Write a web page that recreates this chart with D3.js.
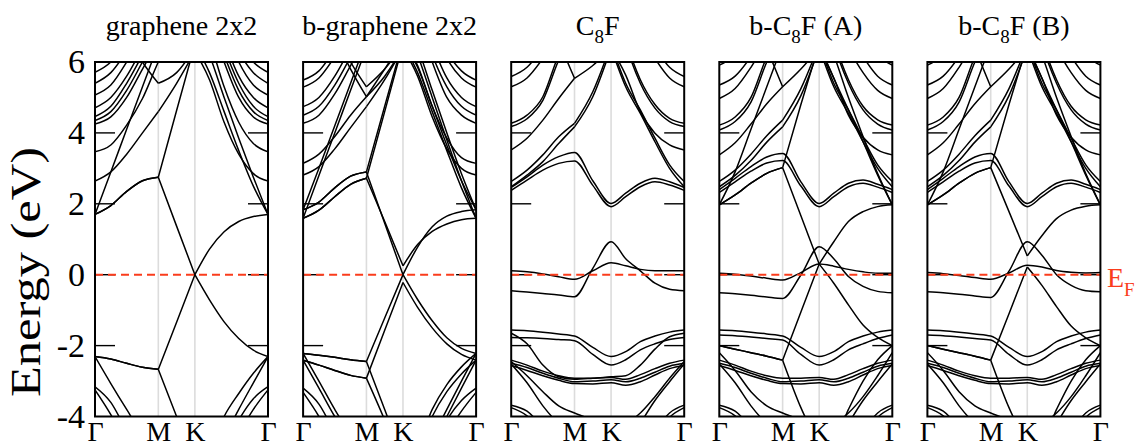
<!DOCTYPE html>
<html><head><meta charset="utf-8">
<script src="https://cdn.jsdelivr.net/npm/d3@7"></script>
<style>html,body{margin:0;padding:0;background:#fff;} svg{display:block;}</style>
</head><body>
<svg id="chart" width="1138" height="446"></svg>
<script>
// ---------- data ----------
const kLabels = ["Γ", "M", "K", "Γ"];
const kNodes = [0, 0.5774, 0.9107, 1.5774];
const kGrid = [0, 0.1443, 0.2887, 0.4330, 0.5774, 0.7440, 0.9107, 1.0440, 1.1774, 1.3107, 1.4440, 1.5774];
const energyTicks = [-4, -2, 0, 2, 4, 6];
const innerTicks = [-2, 0, 2, 4];
const panelTitleParts = [
  [["graphene 2x2", false]],
  [["b-graphene 2x2", false]],
  [["C", false], ["8", true], ["F", false]],
  [["b-C", false], ["8", true], ["F (A)", false]],
  [["b-C", false], ["8", true], ["F (B)", false]]
];

// graphene 2x2
const grapheneKinked = [
  [1.70, 1.95, 2.35, 2.65, 2.75, 1.37, 0.00, 0.72, 1.21, 1.50, 1.64, 1.70],
  [1.70, 1.95, 2.35, 2.65, 2.75, 4.63, 6.50, 5.70, 4.60, 3.50, 2.50, 1.70],
  [1.70, 2.90, 4.10, 5.30, 6.50, 7.00, 7.20, 6.20, 5.00, 3.85, 2.75, 1.70],
  [-2.31, -2.38, -2.50, -2.61, -2.67, -1.34, 0.00, -0.71, -1.33, -1.80, -2.13, -2.31],
  [-2.31, -2.38, -2.50, -2.61, -2.67, -4.00, -5.30, -5.00, -4.00, -3.35, -2.78, -2.31],
  [-2.31, -3.07, -3.80, -4.50, -5.00, -5.50, -5.80, -5.40, -4.60, -3.80, -3.05, -2.31],
  [2.64, 2.90, 3.40, 4.00, 4.60, 5.40, 6.30, 5.50, 4.30, 3.40, 2.85, 2.64],
  [null, 7.50, 6.80, 6.00, 5.40, 5.70, 6.40, null, null, null, null, null]
];
const grapheneSmooth = [
  [3.47, 3.66, 4.22, 4.97, 6.00, 7.00, 7.50, 6.60, 5.30, 4.30, 3.70, 3.47],
  [4.25, 4.45, 5.00, 5.80, 6.60, 7.50, 8.00, 7.20, 6.00, 5.00, 4.45, 4.25],
  [4.35, 4.60, 5.20, 6.00, 6.80, 7.50, 8.00, 7.40, 6.20, 5.20, 4.60, 4.35],
  [4.46, 4.75, 5.40, 6.20, 7.00, 7.50, 8.00, 7.60, 6.40, 5.40, 4.75, 4.46],
  [4.71, 5.00, 5.60, 6.40, 7.20, 7.50, 8.00, 7.80, 6.60, 5.60, 5.00, 4.71],
  [5.07, 5.35, 6.00, 6.80, 7.50, 8.00, 8.00, 8.00, 7.00, 6.00, 5.35, 5.07],
  [5.40, 5.70, 6.30, 7.00, 7.50, 8.00, 8.00, 8.00, 7.30, 6.30, 5.70, 5.40],
  [5.71, 6.00, 6.60, 7.20, 7.50, 8.00, 8.00, 8.00, 7.60, 6.60, 6.00, 5.71],
  [-3.16, -3.60, -4.40, -5.10, -5.60, -6.00, -6.00, -5.60, -4.90, -4.10, -3.50, -3.16],
  [-3.25, -3.95, -4.80, -5.50, -5.90, -6.00, -6.00, -5.90, -5.30, -4.50, -3.80, -3.25]
];

// b-graphene 2x2
const bgrapheneKinked = [
  [1.59, 1.82, 2.20, 2.55, 2.72, 1.50, 0.25, 0.85, 1.22, 1.43, 1.55, 1.59],
  [1.83, 2.05, 2.45, 2.78, 2.90, 1.45, 0.00, 0.78, 1.35, 1.65, 1.78, 1.83],
  [1.59, 1.82, 2.20, 2.55, 2.72, 4.60, 6.50, 5.70, 4.60, 3.50, 2.45, 1.59],
  [1.83, 2.05, 2.45, 2.78, 2.90, 4.75, 6.60, 5.85, 4.75, 3.65, 2.65, 1.83],
  [1.59, 2.80, 4.00, 5.20, 6.40, 7.00, 7.20, 6.20, 5.00, 3.80, 2.65, 1.59],
  [1.83, 3.00, 4.20, 5.40, 6.60, 7.00, 7.20, 6.40, 5.20, 4.00, 2.85, 1.83],
  [-2.22, -2.27, -2.33, -2.40, -2.45, -1.22, 0.00, -0.70, -1.30, -1.78, -2.08, -2.22],
  [-2.41, -2.55, -2.70, -2.84, -2.92, -1.57, -0.22, -0.92, -1.50, -1.95, -2.25, -2.41],
  [-2.22, -2.27, -2.33, -2.40, -2.45, -3.80, -5.20, -4.80, -3.80, -3.10, -2.60, -2.22],
  [-2.41, -2.55, -2.70, -2.84, -2.92, -4.10, -5.40, -5.00, -4.00, -3.30, -2.80, -2.41],
  [-2.22, -3.00, -3.80, -4.50, -5.00, -5.50, -5.80, -5.40, -4.60, -3.80, -3.00, -2.22],
  [-2.41, -3.20, -4.00, -4.70, -5.20, -5.60, -5.90, -5.60, -4.80, -4.00, -3.20, -2.41],
  [2.81, 3.05, 3.55, 4.15, 4.74, 5.50, 6.40, 5.60, 4.45, 3.55, 3.00, 2.81],
  [3.14, 3.40, 3.90, 4.50, 5.02, 5.80, 6.60, 5.90, 4.75, 3.85, 3.30, 3.14],
  [null, 7.50, 6.70, 5.80, 5.02, 5.60, 6.40, null, null, null, null, null],
  [null, 7.60, 6.90, 6.00, 5.30, 5.80, 6.50, null, null, null, null, null]
];
const bgrapheneSmooth = [
  [4.27, 4.50, 5.10, 5.90, 6.70, 7.50, 8.00, 7.20, 6.00, 5.00, 4.50, 4.27],
  [4.50, 4.75, 5.35, 6.15, 7.00, 7.50, 8.00, 7.40, 6.20, 5.30, 4.75, 4.50],
  [4.74, 5.00, 5.60, 6.40, 7.20, 7.50, 8.00, 7.70, 6.50, 5.55, 5.00, 4.74],
  [5.29, 5.55, 6.15, 6.90, 7.50, 8.00, 8.00, 8.00, 7.00, 6.10, 5.55, 5.29],
  [5.49, 5.75, 6.35, 7.00, 7.50, 8.00, 8.00, 8.00, 7.30, 6.30, 5.75, 5.49],
  [-3.20, -3.65, -4.45, -5.15, -5.60, -6.00, -6.00, -5.60, -4.90, -4.10, -3.55, -3.20],
  [-3.32, -4.00, -4.85, -5.55, -5.90, -6.00, -6.00, -5.90, -5.30, -4.50, -3.85, -3.32]
];

// C8F
const c8fKinked = [
  [3.52, 3.85, 4.36, 4.97, 5.54, 5.90, 6.40, 5.63, 4.60, 3.99, 3.66, 3.52],
  [null, 8.00, 7.80, 6.60, 5.54, null, null, null, null, null, null, null],
  [2.63, 2.95, 3.38, 3.89, 4.27, 5.16, 6.50, 5.40, 4.65, 3.85, 3.10, 2.63],
  [2.48, 2.81, 3.19, 3.70, 4.17, 5.02, 6.40, 5.30, 4.55, 3.75, 3.00, 2.48]
];
const c8fSmooth = [
  [5.59, 5.85, 6.40, 7.00, 7.50, 8.00, 8.00, 7.50, 7.00, 6.40, 5.85, 5.59],
  [5.30, 5.55, 6.10, 6.80, 7.50, 8.00, 8.00, 7.50, 6.80, 6.10, 5.55, 5.30],
  [4.27, 4.50, 5.02, 6.20, 7.00, 7.50, 8.00, 6.60, 5.50, 4.80, 4.41, 4.27],
  [4.18, 4.40, 4.92, 6.05, 6.90, 7.50, 8.00, 6.50, 5.40, 4.70, 4.32, 4.18],
  [2.46, 2.76, 3.09, 3.33, 3.45, 2.65, 2.01, 2.30, 2.58, 2.72, 2.62, 2.46],
  [2.38, 2.67, 2.95, 3.14, 3.21, 2.52, 1.92, 2.20, 2.48, 2.62, 2.53, 2.38],
  [0.11, 0.08, 0.02, -0.06, -0.13, 0.11, 0.34, 0.25, 0.15, 0.11, 0.11, 0.11],
  [-0.45, -0.49, -0.53, -0.57, -0.62, 0.18, 0.93, 0.45, 0.11, -0.24, -0.41, -0.45],
  [-1.56, -1.58, -1.62, -1.67, -1.73, -2.05, -2.31, -2.17, -1.89, -1.73, -1.62, -1.56],
  [-1.77, -1.78, -1.80, -1.83, -1.86, -2.25, -2.55, -2.40, -2.12, -1.95, -1.83, -1.77],
  [-1.65, -1.95, -2.55, -2.88, -2.95, -2.92, -2.88, -2.85, -2.55, -2.10, -1.75, -1.65],
  [-2.41, -2.55, -2.72, -2.85, -2.92, -2.92, -2.90, -2.95, -2.82, -2.65, -2.50, -2.41],
  [-2.50, -2.62, -2.78, -2.92, -3.02, -3.00, -2.96, -3.02, -2.92, -2.75, -2.58, -2.50],
  [-2.56, -2.70, -2.85, -2.98, -3.07, -3.08, -3.05, -3.12, -3.02, -2.83, -2.65, -2.56],
  [-2.45, -2.85, -3.30, -3.70, -3.90, -4.10, -4.30, -4.20, -3.90, -3.44, -2.92, -2.45],
  [-2.52, -3.05, -3.70, -4.20, -4.50, -4.90, -5.10, -4.90, -4.20, -3.55, -3.02, -2.52],
  [-3.68, -3.85, -4.30, -4.80, -5.20, -5.50, -5.60, -5.40, -5.00, -4.40, -3.90, -3.68],
  [-3.75, -3.98, -4.45, -4.95, -5.30, -5.60, -5.70, -5.50, -5.10, -4.55, -4.02, -3.75]
];

// b-C8F (A)
const bc8fAKinked = [
  [1.97, 2.25, 2.58, 2.86, 3.02, 1.66, 0.30, 0.93, 1.50, 1.78, 1.92, 1.97],
  [1.97, 2.25, 2.58, 2.86, 3.02, 4.80, 6.50, 5.54, 4.65, 3.75, 2.81, 1.97],
  [1.97, 2.90, 4.10, 5.30, 6.50, 7.00, 7.20, 6.20, 5.00, 3.90, 2.85, 1.97],
  [-2.00, -2.10, -2.20, -2.30, -2.41, -1.05, 0.30, -0.24, -0.85, -1.42, -1.77, -2.00],
  [-2.00, -2.10, -2.20, -2.30, -2.41, -3.75, -4.80, -4.70, -3.80, -3.00, -2.40, -2.00],
  [3.38, 3.72, 4.25, 4.82, 5.30, 5.80, 6.40, 5.55, 4.50, 3.88, 3.52, 3.38],
  [null, 8.00, 7.60, 6.40, 5.30, null, null, null, null, null, null, null],
  [2.63, 2.95, 3.40, 3.92, 4.36, 5.25, 6.50, 5.40, 4.65, 3.85, 3.10, 2.63],
  [2.48, 2.80, 3.22, 3.74, 4.17, 5.05, 6.40, 5.30, 4.55, 3.75, 3.00, 2.48]
];
const bc8fASmooth = [
  [5.91, 6.20, 6.80, 7.50, 8.00, 8.00, 8.00, 8.00, 7.50, 6.80, 6.20, 5.91],
  [5.35, 5.60, 6.15, 6.85, 7.50, 8.00, 8.00, 7.50, 6.85, 6.15, 5.60, 5.35],
  [4.97, 5.25, 5.85, 6.60, 7.30, 8.00, 8.00, 7.30, 6.40, 5.70, 5.20, 4.97],
  [4.22, 4.45, 5.00, 6.15, 7.00, 7.50, 8.00, 6.60, 5.50, 4.75, 4.37, 4.22],
  [4.08, 4.32, 4.87, 6.00, 6.90, 7.50, 8.00, 6.50, 5.40, 4.65, 4.25, 4.08],
  [2.40, 2.72, 3.05, 3.32, 3.42, 2.62, 2.01, 2.30, 2.58, 2.67, 2.55, 2.40],
  [2.32, 2.62, 2.92, 3.15, 3.22, 2.50, 1.92, 2.20, 2.48, 2.58, 2.47, 2.32],
  [0.04, 0.01, -0.04, -0.10, -0.15, 0.06, 0.30, 0.24, 0.15, 0.08, 0.04, 0.04],
  [-0.51, -0.54, -0.58, -0.63, -0.67, -0.01, 0.79, 0.45, -0.05, -0.33, -0.47, -0.51],
  [-1.56, -1.58, -1.62, -1.67, -1.73, -2.05, -2.31, -2.17, -1.89, -1.73, -1.62, -1.56],
  [-1.70, -1.72, -1.76, -1.80, -1.84, -2.25, -2.55, -2.40, -2.12, -1.95, -1.80, -1.70],
  [-2.41, -2.55, -2.72, -2.85, -2.92, -2.92, -2.90, -2.95, -2.82, -2.65, -2.50, -2.41],
  [-2.50, -2.62, -2.78, -2.92, -3.02, -3.00, -2.96, -3.02, -2.92, -2.75, -2.58, -2.50],
  [-2.56, -2.70, -2.85, -2.98, -3.07, -3.08, -3.05, -3.12, -3.02, -2.83, -2.65, -2.56],
  [-2.20, -2.70, -3.30, -3.70, -3.90, -4.10, -4.30, -4.20, -3.90, -3.44, -2.85, -2.20],
  [-2.52, -3.05, -3.70, -4.20, -4.50, -4.90, -5.10, -4.90, -4.20, -3.55, -3.02, -2.52],
  [-3.68, -3.85, -4.30, -4.80, -5.20, -5.50, -5.60, -5.40, -5.00, -4.40, -3.90, -3.68],
  [-3.75, -3.98, -4.45, -4.95, -5.30, -5.60, -5.70, -5.50, -5.10, -4.55, -4.02, -3.75]
];

// b-C8F (B)
const bc8fBKinked = [
  [1.97, 2.25, 2.58, 2.86, 3.02, 1.78, 0.53, 1.10, 1.58, 1.82, 1.93, 1.97],
  [1.97, 2.25, 2.58, 2.86, 3.02, 4.80, 6.50, 5.54, 4.65, 3.75, 2.81, 1.97],
  [1.97, 2.90, 4.10, 5.30, 6.50, 7.00, 7.20, 6.20, 5.00, 3.90, 2.85, 1.97],
  [-2.00, -2.10, -2.20, -2.30, -2.41, -1.10, 0.22, -0.30, -0.90, -1.45, -1.78, -2.00],
  [-2.00, -2.10, -2.20, -2.30, -2.41, -3.75, -4.80, -4.70, -3.80, -3.00, -2.40, -2.00],
  [3.38, 3.72, 4.25, 4.82, 5.30, 5.80, 6.40, 5.55, 4.50, 3.88, 3.52, 3.38],
  [null, 8.00, 7.60, 6.40, 5.30, null, null, null, null, null, null, null],
  [2.63, 2.95, 3.40, 3.92, 4.36, 5.25, 6.50, 5.40, 4.65, 3.85, 3.10, 2.63],
  [2.48, 2.80, 3.22, 3.74, 4.17, 5.05, 6.40, 5.30, 4.55, 3.75, 3.00, 2.48]
];
const bc8fBSmooth = [
  [5.91, 6.20, 6.80, 7.50, 8.00, 8.00, 8.00, 8.00, 7.50, 6.80, 6.20, 5.91],
  [5.35, 5.60, 6.15, 6.85, 7.50, 8.00, 8.00, 7.50, 6.85, 6.15, 5.60, 5.35],
  [4.97, 5.25, 5.85, 6.60, 7.30, 8.00, 8.00, 7.30, 6.40, 5.70, 5.20, 4.97],
  [4.22, 4.45, 5.00, 6.15, 7.00, 7.50, 8.00, 6.60, 5.50, 4.75, 4.37, 4.22],
  [4.08, 4.32, 4.87, 6.00, 6.90, 7.50, 8.00, 6.50, 5.40, 4.65, 4.25, 4.08],
  [2.40, 2.72, 3.05, 3.32, 3.42, 2.62, 2.01, 2.30, 2.58, 2.67, 2.55, 2.40],
  [2.32, 2.62, 2.92, 3.15, 3.22, 2.50, 1.92, 2.20, 2.48, 2.58, 2.47, 2.32],
  [0.06, 0.03, -0.02, -0.08, -0.13, 0.05, 0.27, 0.22, 0.12, 0.07, 0.05, 0.06],
  [-0.48, -0.51, -0.55, -0.60, -0.64, 0.10, 0.93, 0.55, 0.00, -0.30, -0.45, -0.48],
  [-1.56, -1.58, -1.62, -1.67, -1.73, -2.05, -2.31, -2.17, -1.89, -1.73, -1.62, -1.56],
  [-1.70, -1.72, -1.76, -1.80, -1.84, -2.25, -2.55, -2.40, -2.12, -1.95, -1.80, -1.70],
  [-2.41, -2.55, -2.72, -2.85, -2.92, -2.92, -2.90, -2.95, -2.82, -2.65, -2.50, -2.41],
  [-2.50, -2.62, -2.78, -2.92, -3.02, -3.00, -2.96, -3.02, -2.92, -2.75, -2.58, -2.50],
  [-2.56, -2.70, -2.85, -2.98, -3.07, -3.08, -3.05, -3.12, -3.02, -2.83, -2.65, -2.56],
  [-2.20, -2.70, -3.30, -3.70, -3.90, -4.10, -4.30, -4.20, -3.90, -3.44, -2.85, -2.20],
  [-2.52, -3.05, -3.70, -4.20, -4.50, -4.90, -5.10, -4.90, -4.20, -3.55, -3.02, -2.52],
  [-3.68, -3.85, -4.30, -4.80, -5.20, -5.50, -5.60, -5.40, -5.00, -4.40, -3.90, -3.68],
  [-3.75, -3.98, -4.45, -4.95, -5.30, -5.60, -5.70, -5.50, -5.10, -4.55, -4.02, -3.75]
];

// ---------- drawing ----------
const panels = [
  { kinked: grapheneKinked, smooth: grapheneSmooth },
  { kinked: bgrapheneKinked, smooth: bgrapheneSmooth },
  { kinked: c8fKinked, smooth: c8fSmooth },
  { kinked: bc8fAKinked, smooth: bc8fASmooth },
  { kinked: bc8fBKinked, smooth: bc8fBSmooth }
];

const FONT = "'Liberation Serif', 'Times New Roman', serif";
const RED = "#fa3c1c";
const svg = d3.select("#chart");
const panelTop = 62, panelBottom = 416.5, panelW = 173, panelX0 = 95, panelStep = 208.1;
const y = d3.scaleLinear().domain([-4, 6]).range([panelBottom, panelTop]);
const segBreaks = [[0, 4], [4, 6], [6, 11]];

panels.forEach((p, i) => {
  const x0 = panelX0 + i * panelStep, x1 = x0 + panelW;
  const x = d3.scaleLinear().domain([0, kNodes[3]]).range([x0, x1]);
  const g = svg.append("g");
  const clipId = "clip" + i;
  svg.append("clipPath").attr("id", clipId).append("rect")
    .attr("x", x0).attr("y", panelTop).attr("width", panelW).attr("height", panelBottom - panelTop);

  g.selectAll("line.hs").data([kNodes[1], kNodes[2]]).join("line")
    .attr("x1", d => x(d)).attr("x2", d => x(d))
    .attr("y1", panelTop).attr("y2", panelBottom)
    .attr("stroke", "#dcdcdc").attr("stroke-width", 1.6);

  const line = d3.line()
    .defined(d => d[1] !== null)
    .x(d => x(d[0])).y(d => y(d[1]))
    .curve(d3.curveMonotoneX);

  const bands = g.append("g").attr("clip-path", `url(#${clipId})`)
    .attr("fill", "none").attr("stroke", "#000").attr("stroke-width", 1.5);

  p.smooth.forEach(b => {
    bands.append("path").attr("d", line(kGrid.map((k, j) => [k, b[j]])));
  });
  p.kinked.forEach(b => {
    segBreaks.forEach(([a, c]) => {
      const pts = [];
      for (let j = a; j <= c; j++) pts.push([kGrid[j], b[j]]);
      bands.append("path").attr("d", line(pts));
    });
  });

  innerTicks.forEach(v => {
    g.append("line").attr("x1", x0).attr("x2", x0 + 20).attr("y1", y(v)).attr("y2", y(v))
      .attr("stroke", "#000").attr("stroke-width", 1.4);
    g.append("line").attr("x1", x1 - 20).attr("x2", x1).attr("y1", y(v)).attr("y2", y(v))
      .attr("stroke", "#000").attr("stroke-width", 1.4);
  });

  g.append("line").attr("x1", x0).attr("x2", x1).attr("y1", y(0)).attr("y2", y(0))
    .attr("stroke", RED).attr("stroke-width", 2).attr("stroke-dasharray", "8,5");

  g.append("rect").attr("x", x0).attr("y", panelTop).attr("width", panelW)
    .attr("height", panelBottom - panelTop).attr("fill", "none")
    .attr("stroke", "#000").attr("stroke-width", 2);

  const xa = g.append("g").attr("transform", `translate(0,${panelBottom})`)
    .call(d3.axisBottom(x).tickValues(kNodes).tickSize(0).tickPadding(5)
      .tickFormat((d, j) => kLabels[j]));
  xa.select(".domain").remove();
  xa.selectAll("text").attr("font-family", FONT).attr("font-size", 28).attr("fill", "#000");

  const t = svg.append("text").attr("x", (x0 + x1) / 2).attr("y", 35)
    .attr("text-anchor", "middle").attr("font-family", FONT).attr("font-size", 28).attr("fill", "#000");
  let prevSub = false;
  panelTitleParts[i].forEach(([txt, sub]) => {
    const ts = t.append("tspan").text(txt);
    if (sub) ts.attr("font-size", 19).attr("dy", 8);
    else if (prevSub) ts.attr("dy", -8);
    prevSub = sub;
  });

  if (i === 0) {
    const ya = g.append("g").attr("transform", `translate(${x0},0)`)
      .call(d3.axisLeft(y).tickValues(energyTicks).tickSize(0).tickPadding(10)
        .tickFormat(d => String(d)));
    ya.select(".domain").remove();
    ya.selectAll("text").attr("font-family", FONT).attr("font-size", 34).attr("fill", "#000");
  }
});

svg.append("text").attr("transform", "translate(40,272) rotate(-90)")
  .attr("text-anchor", "middle").attr("font-family", FONT).attr("font-size", 42)
  .attr("textLength", 250).attr("lengthAdjust", "spacingAndGlyphs")
  .attr("fill", "#000").text("Energy (eV)");

const ef = svg.append("text").attr("x", 1107).attr("y", 287)
  .attr("font-family", FONT).attr("font-size", 28).attr("fill", RED);
ef.append("tspan").text("E");
ef.append("tspan").attr("font-size", 19).attr("dy", 9).text("F");
</script>
</body></html>
